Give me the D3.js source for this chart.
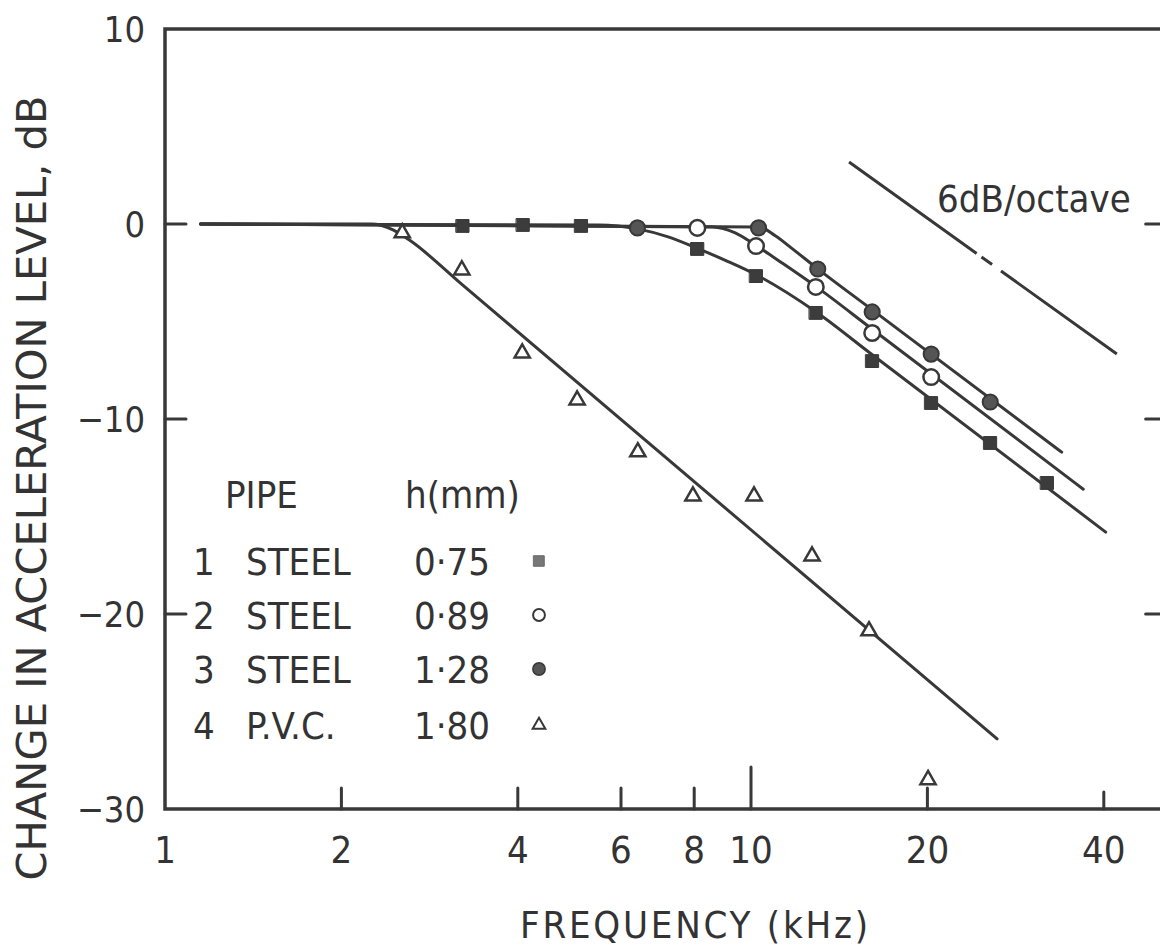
<!DOCTYPE html>
<html><head><meta charset="utf-8">
<script src="https://cdn.jsdelivr.net/npm/d3@7"></script>
<style>
body{margin:0;background:#fff}
text{font-family:"DejaVu Sans Condensed","DejaVu Sans",sans-serif;font-stretch:condensed;fill:#333}
</style>
</head><body>
<svg id="c" width="1160" height="948"></svg>
<script>
// ---- data ----
const xTicks = [1, 2, 4, 6, 8, 10, 20, 40];
const yTicks = [10, 0, -10, -20, -30];
const sideTicks = [0, -10, -20];

// measured points [frequency kHz, dB]
const steel075 = [[3.22,-0.1],[4.08,-0.05],[5.13,-0.1],[8.1,-1.28],[10.2,-2.67],[12.9,-4.56],[16.1,-7.03],[20.3,-9.18],[25.6,-11.23],[32,-13.28]];
const steel089 = [[8.1,-0.2],[10.2,-1.13],[12.9,-3.23],[16.1,-5.59],[20.3,-7.85]];
const steel128 = [[6.4,-0.2],[10.3,-0.2],[13,-2.31],[16.1,-4.51],[20.3,-6.67],[25.6,-9.13]];
const pvc180   = [[2.54,-0.46],[3.21,-2.36],[4.07,-6.62],[5.05,-9.03],[6.41,-11.69],[7.96,-13.95],[10.12,-13.95],[12.71,-17.03],[15.9,-20.87],[20.05,-28.5]];

// fitted curves drawn in the figure
const fit075 = [[1.15,0],[5.5,-0.05],[6.4,-0.25],[7.2,-0.65],[8.1,-1.25],[9.1,-1.9],[10.2,-2.6],[12.9,-4.5],[16,-6.64],[40.3,-15.8]];
const fit089 = [[1.15,0],[8.6,-0.15],[9.4,-0.45],[10.2,-1.1],[11.3,-2.0],[12.9,-3.2],[16,-5.33],[36.9,-13.6]];
const fit128 = [[1.15,0],[10.3,-0.15],[11.0,-0.6],[11.8,-1.3],[13,-2.3],[16,-4.34],[33.9,-11.7]];
const fit180 = [[1.15,0],[2.25,0],[2.45,-0.3],[2.62,-0.85],[3.2,-3.06],[26.3,-26.4]];

// 6 dB/octave reference line
const refLine = [[14.7,3.18],[42.1,-6.67]];
const refLabel = "6dB/octave";

// legend
const legendHead = ["PIPE", "h(mm)"];
const legendNum  = ["1", "2", "3", "4"];
const legendPipe = ["STEEL", "STEEL", "STEEL", "P.V.C."];
const legendH    = ["0·75", "0·89", "1·28", "1·80"];

const xTitle = "FREQUENCY (kHz)";
const yTitle = "CHANGE IN ACCELERATION LEVEL, dB";

// ---- drawing ----
const ink = "#383838";
const svg = d3.select("#c");
const x = d3.scaleLog().domain([1, 10]).range([165, 751]);
const y = d3.scaleLinear().domain([-30, 10]).range([809, 29]);
const xR = x(50.6);

const g = svg.append("g").attr("stroke", ink).attr("stroke-linecap", "round");

// frame
g.append("path").attr("fill","none").attr("stroke-width",3.5)
  .attr("d", `M${xR},${y(10)}H${x(1)}V${y(-30)}H${xR}`);
g.append("line").attr("x1",xR).attr("x2",xR).attr("y1",y(10)).attr("y2",y(-30)).attr("stroke-width",3.5);

// bottom ticks (inward)
g.selectAll(".bt").data(xTicks.filter(d => d > 1)).join("line")
  .attr("x1", d => x(d)).attr("x2", d => x(d))
  .attr("y1", y(-30)).attr("y2", d => y(-30) - (d === 10 ? 42 : (d === 40 ? 17 : 21)))
  .attr("stroke-width", 3);
// left ticks
g.selectAll(".lt").data(sideTicks).join("line")
  .attr("x1", x(1)).attr("x2", x(1) + 21)
  .attr("y1", d => y(d)).attr("y2", d => y(d)).attr("stroke-width", 3);
// right ticks
g.selectAll(".rt").data(sideTicks).join("line")
  .attr("x1", xR).attr("x2", xR - 18)
  .attr("y1", d => y(d)).attr("y2", d => y(d)).attr("stroke-width", 3);

// tick labels
svg.selectAll(".xl").data(xTicks).join("text")
  .attr("x", d => x(d)).attr("y", 863).attr("text-anchor","middle")
  .attr("font-size", 38).text(d => d);
svg.selectAll(".yl").data(yTicks).join("text")
  .attr("x", 145).attr("y", d => y(d) + 13).attr("text-anchor","end")
  .attr("font-size", 36).text(d => d3.format("d")(d));

// axis titles
svg.append("text").attr("x", 694).attr("y", 938).attr("text-anchor","middle")
  .attr("font-size", 38).attr("textLength", 348).attr("lengthAdjust","spacing")
  .text(xTitle);
svg.append("text").attr("transform","translate(46,488) rotate(-90)")
  .attr("text-anchor","middle").attr("font-size", 40)
  .attr("textLength", 785).attr("lengthAdjust","spacingAndGlyphs")
  .text(yTitle);

// fitted curves
const line = d3.line().x(d => x(d[0])).y(d => y(d[1])).curve(d3.curveMonotoneX);
[fit075, fit089, fit128, fit180].forEach(f =>
  g.append("path").attr("d", line(f)).attr("fill","none").attr("stroke-width",3));

// reference line
g.append("path").attr("d", d3.line().x(d => x(d[0])).y(d => y(d[1]))(refLine))
  .attr("fill","none").attr("stroke-width",3).attr("stroke-dasharray","157,6,13,11,400")
  .attr("stroke-linecap","butt");
svg.append("text").attr("x", 937).attr("y", 212).attr("font-size", 38).text(refLabel);

// markers
const sym = (type, size) => d3.symbol().type(type).size(size)();
function markers(data, type, size, fill, sw) {
  g.append("g").selectAll("path").data(data).join("path")
    .attr("transform", d => `translate(${x(d[0])},${y(d[1])})`)
    .attr("d", sym(type, size)).attr("fill", fill).attr("stroke-width", sw)
    .attr("stroke-linejoin","miter");
}
markers(steel075, d3.symbolSquare, 165, "#3c3c3c", 1);
markers(steel089, d3.symbolCircle, 190, "#fff", 2.5);
markers(steel128, d3.symbolCircle, 180, "#555", 2);
markers(pvc180, d3.symbolTriangle, 100, "#fff", 2.5);

// legend
const rowY = [561, 615, 669, 725];
svg.append("text").attr("x", 225).attr("y", 508).attr("font-size", 38).text(legendHead[0]);
svg.append("text").attr("x", 405).attr("y", 508).attr("font-size", 38).text(legendHead[1]);
svg.selectAll(".ln").data(legendNum).join("text")
  .attr("x", 193).attr("y", (d,i) => rowY[i] + 14).attr("font-size", 38).text(d => d);
svg.selectAll(".lp").data(legendPipe).join("text")
  .attr("x", 246).attr("y", (d,i) => rowY[i] + 14).attr("font-size", 38).text(d => d);
svg.selectAll(".lh").data(legendH).join("text")
  .attr("x", 414).attr("y", (d,i) => rowY[i] + 14).attr("font-size", 38).text(d => d);

const lx = 539;
const lg = g.append("g");
lg.append("path").attr("transform",`translate(${lx},${rowY[0]})`).attr("d", sym(d3.symbolSquare, 110)).attr("fill","#777").attr("stroke","#666").attr("stroke-width",1);
lg.append("path").attr("transform",`translate(${lx},${rowY[1]})`).attr("d", sym(d3.symbolCircle, 110)).attr("fill","#fff").attr("stroke-width",2);
lg.append("path").attr("transform",`translate(${lx},${rowY[2]})`).attr("d", sym(d3.symbolCircle, 120)).attr("fill","#555").attr("stroke-width",1.5);
lg.append("path").attr("transform",`translate(${lx},${rowY[3]})`).attr("d", sym(d3.symbolTriangle, 70)).attr("fill","#fff").attr("stroke-width",2);
</script>
</body></html>
